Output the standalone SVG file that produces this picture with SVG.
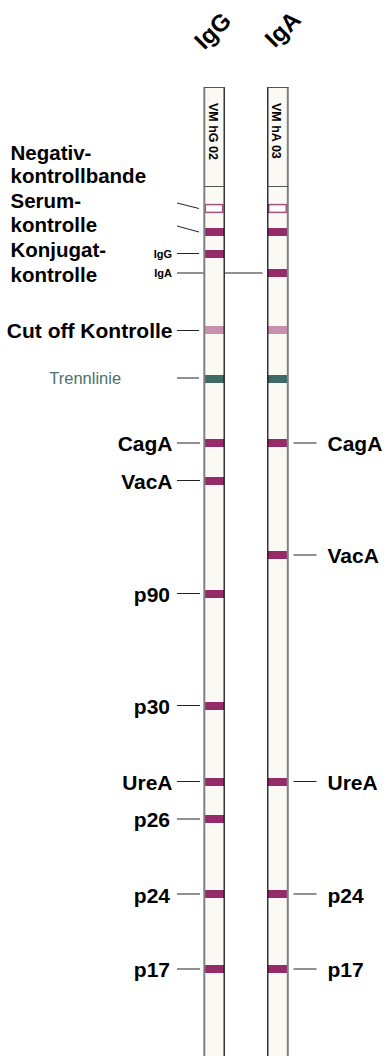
<svg xmlns="http://www.w3.org/2000/svg" width="386" height="1056" viewBox="0 0 386 1056">
<style>
.lbl{font-family:"Liberation Sans",Arial,sans-serif;font-weight:bold;font-size:21px;fill:#000}
.blk{font-family:"Liberation Sans",Arial,sans-serif;font-weight:bold;font-size:20.5px;fill:#000}
.sm{font-family:"Liberation Sans",Arial,sans-serif;font-weight:bold;font-size:11px;fill:#000}
.hd{font-family:"Liberation Sans",Arial,sans-serif;font-weight:bold;font-size:24px;fill:#000}
.code{font-family:"Liberation Sans",Arial,sans-serif;font-weight:bold;font-size:12.5px;fill:#000}
.trenn{font-family:"Liberation Sans",Arial,sans-serif;font-size:16.5px;fill:#4a716c}
.strip{fill:#faf9f4}
.band{fill:#952c69}
.cut{fill:#c890ad}
.tl{fill:#3f6a66}
.neg{fill:#ffffff;stroke:#a0507f;stroke-width:1.5}
.gb{stroke:#808080;stroke-width:2}
.bb{stroke:#000;stroke-width:1.2}
.sep{stroke:#555;stroke-width:1}
.con line{stroke:#222;stroke-width:1}
</style>
<rect width="386" height="1056" fill="#fff"/>
<g id="header-IgG"><text class="hd" x="212.5" y="39" text-anchor="middle" transform="rotate(-45 212.5 30.5)">IgG</text></g>
<g id="header-IgA"><text class="hd" x="282.5" y="37.5" text-anchor="middle" transform="rotate(-45 282.5 29)">IgA</text></g>

<g id="strip-IgG">
<rect class="strip" x="204" y="87" width="20" height="969"/>
<rect class="neg" x="205.3" y="204.6" width="17.4" height="7.8"/>
<rect class="band" x="205" y="228" width="19" height="8"/>
<rect class="band" x="205" y="250" width="19" height="8"/>
<rect class="cut" x="205" y="326" width="19" height="8"/>
<rect class="tl" x="205" y="375" width="19" height="8"/>
<rect class="band" x="205" y="439" width="19" height="8"/>
<rect class="band" x="205" y="477" width="19" height="8"/>
<rect class="band" x="205" y="590" width="19" height="8"/>
<rect class="band" x="205" y="702" width="19" height="8"/>
<rect class="band" x="205" y="778" width="19" height="8"/>
<rect class="band" x="205" y="815" width="19" height="8"/>
<rect class="band" x="205" y="890" width="19" height="8"/>
<rect class="band" x="205" y="965" width="19" height="8"/>
<line class="gb" x1="204.3" y1="87" x2="204.3" y2="1056"/>
<line class="bb" x1="224.2" y1="87" x2="224.2" y2="1056"/>
<line class="sep" x1="204" y1="87.5" x2="224.5" y2="87.5"/>
<line class="sep" x1="204" y1="186.5" x2="224.5" y2="186.5"/>
<text class="code" transform="translate(208.5 103) rotate(90)">VM hG 02</text>
</g>

<g id="strip-IgA">
<rect class="strip" x="267.5" y="87" width="20.5" height="969"/>
<rect class="neg" x="268.7" y="204.6" width="17.6" height="7.8"/>
<rect class="band" x="268" y="228" width="19.2" height="8"/>
<rect class="band" x="268" y="269" width="19.2" height="8"/>
<rect class="cut" x="268" y="326" width="19.2" height="8"/>
<rect class="tl" x="268" y="375" width="19.2" height="8"/>
<rect class="band" x="268" y="439" width="19.2" height="8"/>
<rect class="band" x="268" y="551" width="19.2" height="8"/>
<rect class="band" x="268" y="778" width="19.2" height="8"/>
<rect class="band" x="268" y="890" width="19.2" height="8"/>
<rect class="band" x="268" y="965" width="19.2" height="8"/>
<line class="bb" x1="267.8" y1="87" x2="267.8" y2="1056"/>
<line class="gb" x1="287.8" y1="87" x2="287.8" y2="1056"/>
<line class="sep" x1="267.5" y1="87.5" x2="288.5" y2="87.5"/>
<line class="sep" x1="267.5" y1="186.5" x2="288.5" y2="186.5"/>
<text class="code" transform="translate(271.7 103) rotate(90)">VM hA 03</text>
</g>

<g id="connectors" class="con">
<line x1="177" y1="203" x2="199" y2="208.5"/>
<line x1="177" y1="226" x2="199" y2="232"/>
<line x1="177" y1="253.5" x2="199" y2="253.5"/>
<line x1="177" y1="273" x2="203.5" y2="273"/>
<line x1="225" y1="273" x2="262.5" y2="273"/>
<line x1="177" y1="330.5" x2="199" y2="330.5"/>
<line x1="177" y1="378" x2="199" y2="378"/>
<line x1="177" y1="443" x2="200" y2="443"/>
<line x1="177" y1="480.5" x2="200" y2="480.5"/>
<line x1="177" y1="593.5" x2="200" y2="593.5"/>
<line x1="177" y1="705.5" x2="200" y2="705.5"/>
<line x1="177" y1="781.5" x2="200" y2="781.5"/>
<line x1="177" y1="819" x2="200" y2="819"/>
<line x1="177" y1="894" x2="200" y2="894"/>
<line x1="177" y1="969" x2="200" y2="969"/>
<line x1="293.5" y1="443" x2="316.5" y2="443"/>
<line x1="293.5" y1="555" x2="316.5" y2="555"/>
<line x1="293.5" y1="781.5" x2="316.5" y2="781.5"/>
<line x1="293.5" y1="894" x2="316.5" y2="894"/>
<line x1="293.5" y1="969" x2="316.5" y2="969"/>
</g>

<g id="label-negativ"><text class="blk" x="10.5" y="159.5">Negativ-</text><text class="blk" x="10.5" y="182.7">kontrollbande</text></g>
<g id="label-serum"><text class="blk" x="10.5" y="208.3">Serum-</text><text class="blk" x="10.5" y="232.3">kontrolle</text></g>
<g id="label-konjugat"><text class="blk" x="10.5" y="256.7">Konjugat-</text><text class="blk" x="10.5" y="281.7">kontrolle</text></g>
<g id="label-igg"><text class="sm" x="172" y="257.5" text-anchor="end">IgG</text></g>
<g id="label-iga"><text class="sm" x="172" y="276.5" text-anchor="end">IgA</text></g>
<g id="label-cutoff"><text class="lbl" x="172.5" y="337.5" text-anchor="end">Cut off Kontrolle</text></g>
<g id="label-trenn"><text class="trenn" x="49.3" y="383.5">Trennlinie</text></g>

<g id="left-labels">
<text class="lbl" x="172.5" y="451" text-anchor="end">CagA</text>
<text class="lbl" x="172.5" y="488.5" text-anchor="end">VacA</text>
<text class="lbl" x="170" y="601.5" text-anchor="end">p90</text>
<text class="lbl" x="170" y="714" text-anchor="end">p30</text>
<text class="lbl" x="172.5" y="789.5" text-anchor="end">UreA</text>
<text class="lbl" x="170" y="827" text-anchor="end">p26</text>
<text class="lbl" x="170" y="902.5" text-anchor="end">p24</text>
<text class="lbl" x="170" y="977" text-anchor="end">p17</text>
</g>
<g id="right-labels">
<text class="lbl" x="327.5" y="451">CagA</text>
<text class="lbl" x="327.5" y="563">VacA</text>
<text class="lbl" x="327.5" y="789.5">UreA</text>
<text class="lbl" x="327.5" y="902.5">p24</text>
<text class="lbl" x="327.5" y="977">p17</text>
</g>
</svg>
